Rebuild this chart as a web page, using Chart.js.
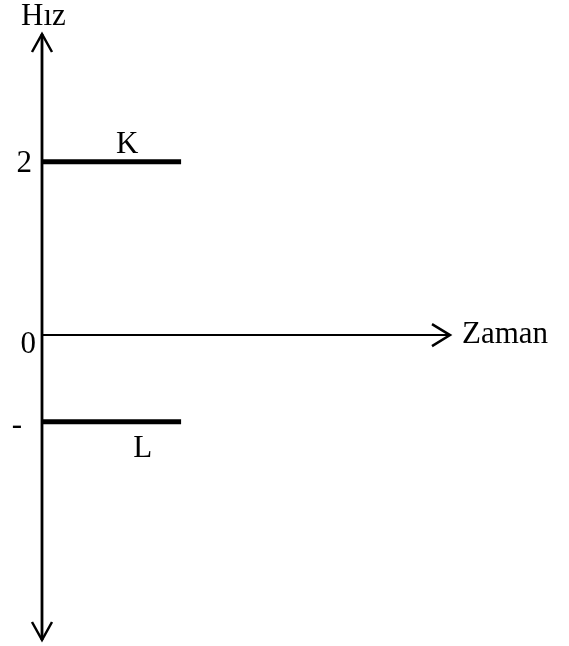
<!DOCTYPE html>
<html>
<head>
<meta charset="utf-8">
<script src="https://cdn.jsdelivr.net/npm/chart.js@4/dist/chart.umd.min.js"></script>
<style>
  html, body { margin: 0; padding: 0; background: #fff; }
  #wrap { width: 569px; height: 646px; }
</style>
</head>
<body>
<div id="wrap"><canvas id="c" width="569" height="646"></canvas></div>
<script>
// ---- data ----
const seriesNames = ['K', 'L'];
const timeStart = 0;
const timeEnd = 3;
const kValues = [2, 2];
const lValues = [-1, -1];
const yTickValues = [2, 0, -1];
const yTickLabels = ['2', '0', '-'];
const yAxisTitle = 'Hız';
const xAxisTitle = 'Zaman';

const FONT = '31px "Liberation Serif", "Times New Roman", serif';

const axesPlugin = {
  id: 'axesPlugin',
  afterDatasetsDraw(chart) {
    const ctx = chart.ctx;
    const xs = chart.scales.x, ys = chart.scales.y;
    const x0 = xs.getPixelForValue(0);
    const y0 = ys.getPixelForValue(0);
    const top = chart.chartArea.top, bottom = chart.chartArea.bottom, right = chart.chartArea.right;
    ctx.save();
    ctx.strokeStyle = '#000';
    ctx.lineWidth = 2.8;
    ctx.lineCap = 'butt';
    // vertical axis
    ctx.beginPath();
    ctx.moveTo(x0, top); ctx.lineTo(x0, bottom);
    ctx.stroke();
    // horizontal axis
    ctx.lineWidth = 2;
    ctx.beginPath();
    ctx.moveTo(x0, y0); ctx.lineTo(right, y0);
    ctx.stroke();
    // arrows
    ctx.lineWidth = 2.5;
    ctx.lineJoin = 'miter';
    ctx.beginPath();
    ctx.moveTo(x0 - 10, top + 18); ctx.lineTo(x0, top); ctx.lineTo(x0 + 10, top + 18);
    ctx.stroke();
    ctx.beginPath();
    ctx.moveTo(x0 - 10, bottom - 18); ctx.lineTo(x0, bottom); ctx.lineTo(x0 + 10, bottom - 18);
    ctx.stroke();
    ctx.beginPath();
    ctx.moveTo(right - 18, y0 - 11); ctx.lineTo(right, y0); ctx.lineTo(right - 18, y0 + 11);
    ctx.stroke();

    // texts
    ctx.fillStyle = '#000';
    ctx.font = FONT;
    ctx.textBaseline = 'alphabetic';
    ctx.textAlign = 'left';
    ctx.fillText(yAxisTitle, x0 - 21, 25);
    ctx.fillText(xAxisTitle, right + 12, y0 + 8);
    // tick labels
    const tickOffsets = { '2': [31, 10], '0': [35, 18], '-': [21, 12] };
    ctx.textAlign = 'right';
    yTickValues.forEach((v, i) => {
      const lab = yTickLabels[i];
      const off = tickOffsets[lab] || [30, 10];
      ctx.fillText(lab, off[0] + 1, ys.getPixelForValue(v) + off[1]);
    });
    // series labels
    ctx.textAlign = 'center';
    const midK = xs.getPixelForValue(1.84);
    ctx.fillText(seriesNames[0], midK, ys.getPixelForValue(kValues[0]) - 9);
    const midL = xs.getPixelForValue(2.17);
    ctx.fillText(seriesNames[1], midL, ys.getPixelForValue(lValues[0]) + 35);
    ctx.restore();
  }
};

new Chart(document.getElementById('c'), {
  type: 'line',
  data: {
    datasets: [
      { label: seriesNames[0], data: [{x: timeStart, y: kValues[0]}, {x: timeEnd, y: kValues[1]}],
        borderColor: '#000', borderWidth: 5, pointRadius: 0, borderCapStyle: 'butt', fill: false },
      { label: seriesNames[1], data: [{x: timeStart, y: lValues[0]}, {x: timeEnd, y: lValues[1]}],
        borderColor: '#000', borderWidth: 5, pointRadius: 0, borderCapStyle: 'butt', fill: false }
    ]
  },
  options: {
    responsive: false,
    animation: false,
    devicePixelRatio: 1,
    layout: { padding: { left: 42, right: 119, top: 34, bottom: 6 } },
    plugins: { legend: { display: false }, tooltip: { enabled: false } },
    scales: {
      x: { type: 'linear', min: 0, max: 8.8, display: false },
      y: { type: 'linear', min: -3.52, max: 3.476, display: false }
    }
  },
  plugins: [axesPlugin]
});
</script>
</body>
</html>
